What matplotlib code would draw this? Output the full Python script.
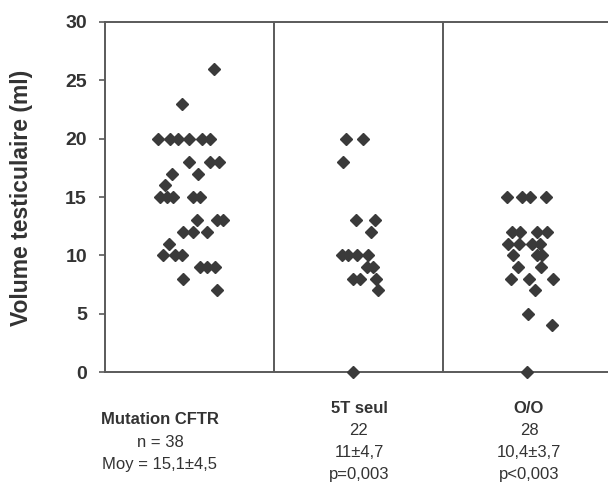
import matplotlib
matplotlib.use("Agg")
import matplotlib.pyplot as plt
from matplotlib import font_manager

names = {f.name for f in font_manager.fontManager.ttflist}
narrow = "Liberation Sans Narrow" if "Liberation Sans Narrow" in names else "Liberation Sans"

# ---- data ----
groups = ["Mutation CFTR", "5T seul", "O/O"]
group_values = {
    "Mutation CFTR": [26, 23, 20, 20, 20, 20, 20, 20, 18, 18, 18, 17, 17, 16,
                      15, 15, 15, 15, 15, 13, 13, 13, 12, 12, 12, 11, 10, 10, 10,
                      9, 9, 9, 8, 7],
    "5T seul": [20, 20, 18, 13, 13, 12, 10, 10, 10, 10, 9, 9, 8, 8, 8, 7, 0],
    "O/O": [15, 15, 15, 15, 12, 12, 12, 12, 11, 11, 11, 11, 10, 10, 10, 9, 9,
            8, 8, 8, 7, 5, 4, 0],
}
# horizontal jitter (fraction of panel width)
group_jitter = {
    "Mutation CFTR": [0.145, -0.044, -0.186, -0.115, -0.068, -0.003, 0.074, 0.121,
                      -0.003, 0.121, 0.175, -0.104, 0.050, -0.145,
                      -0.175, -0.133, -0.098, 0.021, 0.062, 0.044, 0.163, 0.198,
                      -0.038, 0.021, 0.104, -0.121, -0.157, -0.086, -0.044,
                      0.062, 0.104, 0.151, -0.038, 0.163],
    "5T seul": [-0.074, 0.027, -0.092, -0.015, 0.098, 0.074, -0.098, -0.062,
                -0.009, 0.056, 0.050, 0.086, -0.033, 0.009, 0.104, 0.115, -0.033],
    "O/O": [-0.121, -0.033, 0.015, 0.109, -0.092, -0.044, 0.056, 0.115,
            -0.115, -0.050, 0.027, 0.074, -0.086, 0.056, 0.086, -0.056, 0.080,
            -0.098, 0.009, 0.151, 0.044, 0.003, 0.145, -0.003],
}
group_labels = [
    ["Mutation CFTR", "n = 38", "Moy = 15,1\u00b14,5"],
    ["5T seul", "22", "11\u00b14,7", "p=0,003"],
    ["O/O", "28", "10,4\u00b13,7", "p<0,003"],
]
y_ticks = [0, 5, 10, 15, 20, 25, 30]
y_label = "Volume testiculaire (ml)"

# ---- figure ----
W, H = 608, 490
fig = plt.figure(figsize=(W / 100, H / 100), dpi=100)
ax = fig.add_axes([105 / W, 118 / H, 503 / W, 350 / H])
ax.set_xlim(0, 503 / 169)
ax.set_ylim(0, 30)

spine_c = "#5a5a5a"
for s in ["left", "bottom", "top"]:
    ax.spines[s].set_color(spine_c)
    ax.spines[s].set_linewidth(1.4)
ax.spines["right"].set_visible(False)
for xv in [1, 2]:
    ax.axvline(xv, color=spine_c, lw=1.4)

for i, g in enumerate(groups):
    xs = [i + 0.5 + j for j in group_jitter[g]]
    ax.plot(xs, group_values[g], linestyle="none", marker="D",
            markersize=5.8, color="#3a3a3a", clip_on=False, zorder=3)

ax.set_xticks([])
ax.set_yticks(y_ticks)
ax.tick_params(axis="y", direction="out", length=4, width=1.2, color=spine_c,
               pad=9, labelsize=14)
for t in ax.get_yticklabels():
    t.set_fontweight("bold")
    t.set_family("Liberation Sans")
    t.set_color("#333333")

fig.text(22 / W, 1 - 198 / H, y_label, rotation=90, ha="center", va="center",
         fontsize=16.5, fontweight="bold", family="Liberation Sans", color="#333333")

centers = [160, 359, 529]
starts = [420, 408, 408]
for c, st, lines in zip(centers, starts, group_labels):
    for k, line in enumerate(lines):
        fig.text(c / W, 1 - (st + k * 22) / H, line, ha="center", va="center",
                 fontsize=12, family=narrow, color="#333333",
                 fontweight="bold" if k == 0 else "normal")

fig.savefig("out.png", dpi=100, facecolor="white")
